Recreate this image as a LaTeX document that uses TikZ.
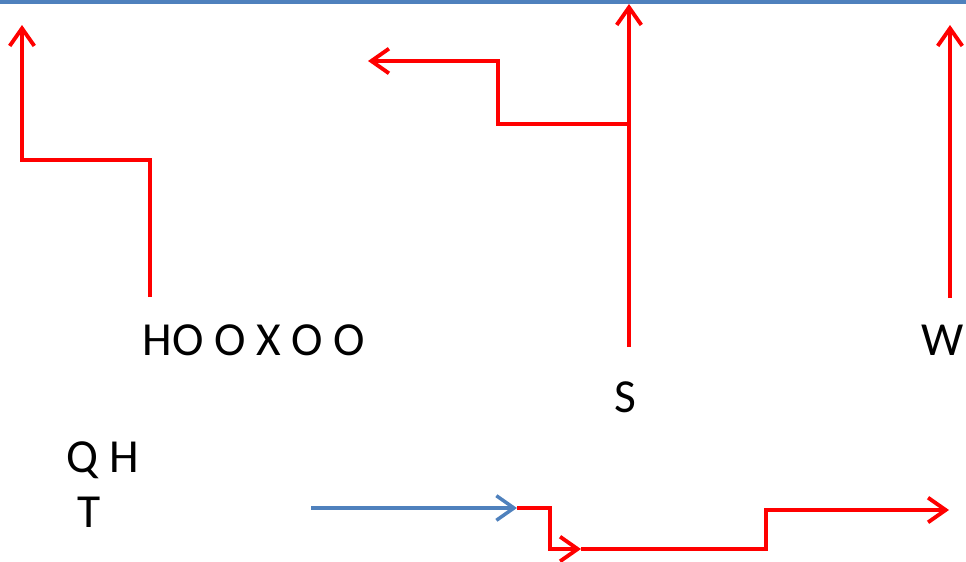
\documentclass[tikz,border=0pt]{standalone}
\usepackage{fontspec}
\setmainfont{Carlito}
\usetikzlibrary{arrows.meta}
\definecolor{losblue}{HTML}{4F81BD}
\begin{document}
\begin{tikzpicture}[x=0.02cm, y=-0.02cm,
    player/.style={anchor=base, inner sep=0pt, font=\fontsize{27}{30}\selectfont},
    route/.style={draw=red, line width=2.2pt, -{Straight Barb[length=10pt, width=14pt]}},
    motion/.style={draw=losblue, line width=2pt, -{Straight Barb[length=10pt, width=14pt]}}]
  \useasboundingbox (0,0) rectangle (966,561);
  \draw[losblue, line width=2.2pt] (0,1.7) -- (966,1.7);

  \node[player] at (254,355) (ho) {HO O X O O};
  \node[player] at (625,412) (s) {S};
  \node[player] at (943,355) (w) {W};
  \node[player] at (103,472) (qh) {Q H};
  \node[player] at (89,527) (t) {T};

  \coordinate (h0) at (150,297);
  \coordinate (h1) at (22,25);
  \coordinate (s0) at (629,347);
  \coordinate (s1) at (629,4);
  \coordinate (sb) at (629,124);
  \coordinate (s2) at (368,61);
  \coordinate (w0) at (950,298);
  \coordinate (w1) at (950,25);
  \coordinate (m0) at (311,508);
  \coordinate (m1) at (517,508);
  \coordinate (m2) at (581,549);
  \coordinate (m3) at (949,510);

  \draw[route] (h0) -- (150,160) -| (h1);
  \draw[route] (s0) -- (s1);
  \draw[route] (sb) -| (498,61) -- (s2);
  \draw[route] (w0) -- (w1);
  \draw[motion] (m0) -- (m1);
  \draw[route] (m1) -- (550,508) |- (m2);
  \draw[route] (m2) -| (766,510) -- (m3);
\end{tikzpicture}
\end{document}
